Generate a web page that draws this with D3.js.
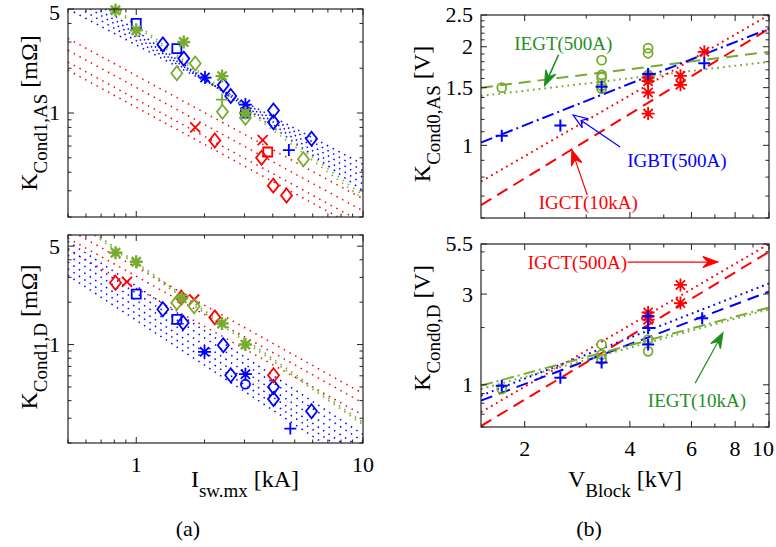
<!DOCTYPE html>
<html>
<head>
<meta charset="utf-8">
<script src="https://cdn.jsdelivr.net/npm/d3@7"></script>
<style>
  body { margin: 0; background: #fff; }
  text { font-family: "Liberation Serif", "Times New Roman", serif; }
</style>
</head>
<body>
<svg id="chart" width="776" height="547"></svg>
<script>
// ---- data: (a) K_Cond1 vs I_sw.mx [kA] ----
// top-left panel K_Cond1,AS [mOhm]
var tlGreenStar    = [[0.81, 4.9], [1.0, 3.6], [1.62, 3.0], [2.39, 1.77], [3.03, 1.0]];
var tlGreenDiamond = [[1.51, 1.85], [1.82, 2.15], [2.4, 1.02], [3.03, 0.93], [5.46, 0.489]];
var tlGreenPlus    = [[2.39, 1.23]];
var tlBlueSquare   = [[1.0, 4.0], [1.51, 2.71], [3.03, 1.0]];
var tlBlueDiamond  = [[1.31, 2.89], [1.62, 2.32], [2.42, 1.54], [2.61, 1.30], [4.03, 1.04], [4.03, 0.866], [5.93, 0.671]];
var tlBlueStar     = [[2.01, 1.73], [3.03, 1.14]];
var tlBluePlus     = [[4.71, 0.563]];
var tlRedX         = [[1.82, 0.80], [3.61, 0.657]];
var tlRedDiamond   = [[2.22, 0.654], [3.57, 0.50], [4.02, 0.325], [4.6, 0.279]];
var tlRedSquare    = [[3.8, 0.547]];
// fitted lines: value at I = 0.5 kA and at I = 10 kA
var fitXA = [0.5, 10];
var tlRedFits   = [[3.17, 0.265], [2.64, 0.22], [2.2, 0.183], [1.94, 0.162]];
var tlBlueFits  = [[5.0, 0.452], [5.6, 0.409], [6.2, 0.369], [6.8, 0.333], [7.5, 0.301]];
var tlGreenFits = [[8.8, 0.28], [8.6, 0.265]];

// bottom-left panel K_Cond1,D [mOhm]
var blGreenStar    = [[0.81, 4.49], [1.0, 3.87], [1.59, 2.13], [2.39, 1.41], [3.03, 1.0]];
var blGreenDiamond = [[1.51, 1.98], [1.8, 1.87]];
var blRedDiamond   = [[0.81, 2.75], [1.58, 2.16], [2.22, 1.56], [4.03, 0.606]];
var blRedX         = [[0.91, 2.79], [1.8, 2.09]];
var blBlueSquare   = [[1.0, 2.28], [1.51, 1.51]];
var blBlueDiamond  = [[1.31, 1.78], [1.61, 1.43], [2.42, 0.99], [2.61, 0.606], [4.03, 0.5], [4.03, 0.41], [5.93, 0.336]];
var blBlueStar     = [[2.0, 0.888], [3.03, 0.616]];
var blBlueCircle   = [[3.03, 0.523]];
var blBluePlus     = [[4.78, 0.253]];
var blRedFits   = [[6.6, 0.449], [5.7, 0.385], [4.7, 0.315]];
var blGreenFits = [[8.4, 0.28], [8.1, 0.27]];
var blBlueFits  = [[5.4, 0.23], [4.8, 0.205], [4.3, 0.18], [3.85, 0.16], [3.45, 0.145], [3.1, 0.13]];

// ---- data: (b) K_Cond0 vs V_Block [kV] ----
var fitXB = [1.5, 10];
var trGreenCircle = [[1.72, 1.5], [3.32, 1.82], [3.32, 1.64], [3.32, 1.61], [3.32, 1.52], [3.32, 1.49],
                     [4.51, 1.98], [4.51, 1.91], [4.51, 1.64], [4.51, 1.62], [4.51, 1.59]];
var trBluePlus    = [[1.72, 1.07], [2.53, 1.15], [3.32, 1.51], [4.51, 1.65], [6.53, 1.78]];
var trRedStar     = [[4.51, 1.61], [4.51, 1.57], [4.51, 1.45], [4.51, 1.25], [5.58, 1.63], [5.58, 1.53], [6.53, 1.93]];
var trIegtFit    = [1.5, 1.93];
var trIegtDotFit = [1.415, 1.8];
var trIgbtFit    = [1.02, 2.27];
var trIgctDotFit = [0.776, 2.5];
var trIgctFit    = [0.657, 2.27];

var brGreenCircle = [[1.72, 0.95], [3.32, 1.63], [3.32, 1.44], [3.32, 1.36], [4.51, 1.73], [4.51, 1.5]];
var brBluePlus    = [[1.72, 0.99], [2.53, 1.09], [3.32, 1.31], [4.51, 2.29], [4.51, 1.99], [4.51, 1.63], [6.44, 2.24]];
var brRedStar     = [[4.51, 2.40], [4.51, 2.29], [4.51, 2.2], [5.58, 3.35], [5.58, 2.69]];
var brIgctDotFit = [0.718, 5.5];
var brIgctFit    = [0.607, 5.0];
var brIgbtDotFit = [0.877, 3.41];
var brIgbtFit    = [0.826, 3.09];
var brIegtFit    = [0.99, 2.55];
var brIegtDotFit = [0.95, 2.5];

// ticks
var xTicksA = [0.5, 0.6, 0.7, 0.8, 0.9, 1, 2, 3, 4, 5, 6, 7, 8, 9, 10];
var xLabelsA = [1, 10];
var yTicksTL = [0.2, 0.3, 0.4, 0.5, 0.6, 0.7, 0.8, 0.9, 1, 2, 3, 4, 5];
var yLabelsTL = [1, 5];
var yTicksBL = [0.2, 0.3, 0.4, 0.5, 0.6, 0.7, 0.8, 0.9, 1, 2, 3, 4, 5, 6];
var yLabelsBL = [1, 5];
var xTicksB = [2, 3, 4, 5, 6, 7, 8, 9, 10];
var xLabelsB = [2, 4, 6, 8, 10];
var yTicksTR = [0.6, 0.7, 0.8, 0.9, 1, 1.1, 1.2, 1.3, 1.4, 1.5, 1.6, 1.7, 1.8, 1.9, 2, 2.1, 2.2, 2.3, 2.4, 2.5];
var yLabelsTR = [1, 1.5, 2, 2.5];
var yTicksBR = [0.6, 0.7, 0.8, 0.9, 1, 2, 3, 4, 5, 5.5];
var yLabelsBR = [1, 3, 5.5];

var BLUE = "#0000ff", RED = "#ff0000", GREEN = "#77ac30", DKGREEN = "#1f8f1f";

var svg = d3.select("#chart");

// panels
var tl = { id: "tl", x: d3.scaleLog().domain([0.5, 10]).range([68, 363]), y: d3.scaleLog().domain([0.2, 5]).range([217, 9]) };
var bl = { id: "bl", x: d3.scaleLog().domain([0.5, 10]).range([68, 363]), y: d3.scaleLog().domain([0.2, 6]).range([443, 235]) };
var tr = { id: "tr", x: d3.scaleLog().domain([1.5, 10]).range([481, 769]), y: d3.scaleLog().domain([0.6, 2.5]).range([218, 15]) };
var br = { id: "br", x: d3.scaleLog().domain([1.5, 10]).range([481, 769]), y: d3.scaleLog().domain([0.6, 5.5]).range([427, 244]) };

[tl, bl, tr, br].forEach(function(p) {
  svg.append("clipPath").attr("id", "clip-" + p.id)
    .append("rect")
    .attr("x", p.x.range()[0]).attr("y", p.y.range()[1])
    .attr("width", p.x.range()[1] - p.x.range()[0])
    .attr("height", p.y.range()[0] - p.y.range()[1]);
  p.lines = svg.append("g").attr("clip-path", "url(#clip-" + p.id + ")");
  p.marks = svg.append("g");
});

var line = d3.line();

function fit(p, xs, ys, color, dash, w) {
  p.lines.append("path")
    .attr("d", line([[p.x(xs[0]), p.y(ys[0])], [p.x(xs[1]), p.y(ys[1])]]))
    .attr("fill", "none")
    .attr("stroke", color)
    .attr("stroke-width", w || 1.5)
    .attr("stroke-dasharray", dash);
}

var DOT = "1.5,5", DOTR = "1.8,4", DASH = "12,7", DASHDOT = "12,4,2,4";

// marker shapes
function shape(type) {
  switch (type) {
    case "d": return "M0,-7L5.5,0L0,7L-5.5,0Z";
    case "s": return "M-4.5,-4.5H4.5V4.5H-4.5Z";
    case "+": return "M-6,0H6M0,-6V6";
    case "x": return "M-5,-5L5,5M-5,5L5,-5";
    case "*": return "M-6.5,0H6.5M0,-6.5V6.5M-4.6,-4.6L4.6,4.6M-4.6,4.6L4.6,-4.6";
    case "o": return "M4.5,0A4.5,4.5 0 1,1 -4.5,0A4.5,4.5 0 1,1 4.5,0Z";
  }
}

function marks(p, data, type, color, w) {
  p.marks.selectAll(null)
    .data(data)
    .enter()
    .append("path")
    .attr("transform", function(d) { return "translate(" + p.x(d[0]) + "," + p.y(d[1]) + ")"; })
    .attr("d", shape(type))
    .attr("fill", "none")
    .attr("stroke", color)
    .attr("stroke-width", w || 1.8);
}

// ---- fitted lines ----
tlRedFits.forEach(function(f) { fit(tl, fitXA, f, RED, DOT); });
tlBlueFits.forEach(function(f) { fit(tl, fitXA, f, BLUE, DOT); });
tlGreenFits.forEach(function(f) { fit(tl, fitXA, f, GREEN, DOT); });

blRedFits.forEach(function(f) { fit(bl, fitXA, f, RED, DOT); });
blBlueFits.forEach(function(f) { fit(bl, fitXA, f, BLUE, DOT); });
blGreenFits.forEach(function(f) { fit(bl, fitXA, f, GREEN, DOT, 1.8); });

fit(tr, fitXB, trIegtDotFit, GREEN, DOTR, 2);
fit(tr, fitXB, trIegtFit, GREEN, DASH, 2);
fit(tr, fitXB, trIgctDotFit, RED, DOTR, 2);
fit(tr, fitXB, trIgctFit, RED, DASH, 2);
fit(tr, fitXB, trIgbtFit, BLUE, DASHDOT, 2);

fit(br, fitXB, brIgctDotFit, RED, DOTR, 2);
fit(br, fitXB, brIgctFit, RED, DASH, 2);
fit(br, fitXB, brIgbtDotFit, BLUE, DOTR, 2);
fit(br, fitXB, brIgbtFit, BLUE, DASH, 2);
fit(br, fitXB, brIegtDotFit, GREEN, DOTR, 2);
fit(br, fitXB, brIegtFit, GREEN, DASHDOT, 2);

// ---- markers ----
marks(tl, tlRedX, "x", RED);
marks(tl, tlRedDiamond, "d", RED);
marks(tl, tlRedSquare, "s", RED);
marks(tl, tlBlueDiamond, "d", BLUE);
marks(tl, tlBlueSquare, "s", BLUE);
marks(tl, tlBlueStar, "*", BLUE);
marks(tl, tlBluePlus, "+", BLUE);
marks(tl, tlGreenDiamond, "d", GREEN);
marks(tl, tlGreenPlus, "+", GREEN);
marks(tl, tlGreenStar, "*", GREEN, 2.4);

marks(bl, blBlueDiamond, "d", BLUE);
marks(bl, blBlueSquare, "s", BLUE);
marks(bl, blBlueStar, "*", BLUE);
marks(bl, blBlueCircle, "o", BLUE);
marks(bl, blBluePlus, "+", BLUE);
marks(bl, blRedDiamond, "d", RED);
marks(bl, blRedX, "x", RED);
marks(bl, blGreenDiamond, "d", GREEN);
marks(bl, blGreenStar, "*", GREEN, 2.4);

marks(tr, trGreenCircle, "o", GREEN);
marks(tr, trRedStar, "*", RED);
marks(tr, trBluePlus, "+", BLUE, 2);

marks(br, brGreenCircle, "o", GREEN);
marks(br, brRedStar, "*", RED);
marks(br, brBluePlus, "+", BLUE, 2);

// ---- frames, ticks, tick labels ----
function axes(p, xt, xl, yt, yl, showX) {
  var x0 = p.x.range()[0], x1 = p.x.range()[1];
  var yb = p.y.range()[0], yt0 = p.y.range()[1];
  var g = svg.append("g");
  var d = "";
  xt.forEach(function(v) {
    var L = xl.indexOf(v) >= 0 ? 6 : 3.5, px = p.x(v);
    d += "M" + px + "," + yb + "V" + (yb - L) + "M" + px + "," + yt0 + "V" + (yt0 + L);
  });
  yt.forEach(function(v) {
    var L = yl.indexOf(v) >= 0 ? 6 : 3.5, py = p.y(v);
    d += "M" + x0 + "," + py + "H" + (x0 + L) + "M" + x1 + "," + py + "H" + (x1 - L);
  });
  g.append("path").attr("d", d).attr("stroke", "#222").attr("stroke-width", 1).attr("fill", "none");
  g.append("rect").attr("x", x0).attr("y", yt0).attr("width", x1 - x0).attr("height", yb - yt0)
    .attr("fill", "none").attr("stroke", "#222").attr("stroke-width", 1.2);
  g.selectAll(null).data(yl).enter().append("text")
    .attr("x", x0 - 8).attr("y", function(v) { return Math.max(p.y(v), 13); })
    .attr("dy", "0.34em").attr("text-anchor", "end")
    .attr("font-size", 22).text(function(v) { return v; });
  if (showX) {
    g.selectAll(null).data(xl).enter().append("text")
      .attr("x", function(v) { return Math.min(p.x(v), 763); }).attr("y", yb + 29)
      .attr("text-anchor", "middle")
      .attr("font-size", 22).text(function(v) { return v; });
  }
}

axes(tl, xTicksA, xLabelsA, yTicksTL, yLabelsTL, false);
axes(bl, xTicksA, xLabelsA, yTicksBL, yLabelsBL, true);
axes(tr, xTicksB, xLabelsB, yTicksTR, yLabelsTR, false);
axes(br, xTicksB, xLabelsB, yTicksBR, yLabelsBR, true);

// ---- axis titles with subscripts ----
function title(x, y, rot, main, sub, tail) {
  var t = svg.append("text")
    .attr("transform", "translate(" + x + "," + y + ") rotate(" + rot + ")")
    .attr("text-anchor", "middle");
  t.append("tspan").attr("font-size", 24).text(main);
  t.append("tspan").attr("font-size", 19).attr("dy", 10).text(sub);
  t.append("tspan").attr("font-size", 24).attr("dy", -10).text(tail);
}

title(37, 113, -90, "K", "Cond1,AS", " [mΩ]");
title(37, 337, -90, "K", "Cond1,D", " [mΩ]");
title(430, 114, -90, "K", "Cond0,AS", " [V]");
title(430, 328, -90, "K", "Cond0,D", " [V]");
title(245, 487, 0, "I", "sw.mx", " [kA]");
title(625, 487, 0, "V", "Block", " [kV]");

svg.append("text").attr("x", 188).attr("y", 536).attr("text-anchor", "middle").attr("font-size", 22).text("(a)");
svg.append("text").attr("x", 589).attr("y", 536).attr("text-anchor", "middle").attr("font-size", 22).text("(b)");

// ---- annotations ----
function arrow(p, from, to, color, filled, w) {
  var ax = p.x(from[0]), ay = p.y(from[1]), bx = p.x(to[0]), by = p.y(to[1]);
  var dx = bx - ax, dy = by - ay, len = Math.sqrt(dx * dx + dy * dy);
  var ux = dx / len, uy = dy / len, nx = -uy, ny = ux;
  var L = 15, W = 11;
  svg.append("path")
    .attr("d", line([[ax, ay], [bx - ux * L * 0.6, by - uy * L * 0.6]]))
    .attr("stroke", color).attr("stroke-width", w || 1.2).attr("fill", "none");
  var head = [[bx, by],
    [bx - ux * L + nx * W / 2, by - uy * L + ny * W / 2],
    [bx - ux * L * 0.65, by - uy * L * 0.65],
    [bx - ux * L - nx * W / 2, by - uy * L - ny * W / 2]];
  svg.append("path")
    .attr("d", line(head) + "Z")
    .attr("fill", filled ? color : "#fff")
    .attr("stroke", color).attr("stroke-width", 1.2);
}

function note(p, at, label, color) {
  svg.append("text")
    .attr("x", p.x(at[0])).attr("y", p.y(at[1]))
    .attr("text-anchor", "middle").attr("font-size", 19)
    .attr("fill", color).text(label);
}

note(tr, [2.58, 1.95], "IEGT(500A)", DKGREEN);
arrow(tr, [2.5, 1.89], [2.28, 1.52], DKGREEN, true, 1.6);
note(tr, [5.45, 0.858], "IGBT(500A)", BLUE);
arrow(tr, [3.75, 0.988], [2.75, 1.238], BLUE, false, 1.2);
note(tr, [3.04, 0.639], "IGCT(10kA)", RED);
arrow(tr, [3.02, 0.705], [2.73, 0.967], RED, true, 1.2);

note(br, [2.83, 4.06], "IGCT(500A)", RED);
arrow(br, [3.94, 4.42], [7.14, 4.42], RED, true, 1.2);
note(br, [6.22, 0.764], "IEGT(10kA)", DKGREEN);
arrow(br, [6.15, 1.021], [7.38, 1.875], DKGREEN, true, 1.2);
</script>
</body>
</html>
